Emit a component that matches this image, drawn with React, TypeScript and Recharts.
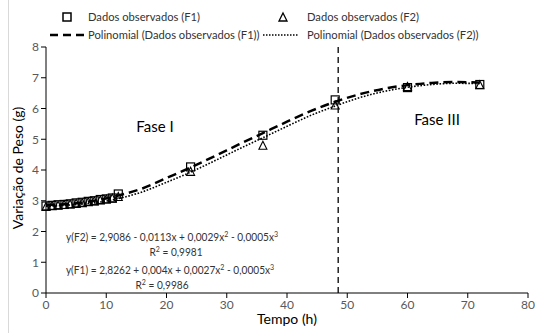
import React from "react";
import {
  ComposedChart,
  Scatter,
  Line,
  XAxis,
  YAxis,
  ReferenceLine,
} from "recharts";

// observed times (h)
const tempo = [0, 1, 2, 3, 4, 5, 6, 7, 8, 9, 10, 11, 12, 24, 36, 48, 60, 72];
const pesoF1 = [2.83, 2.85, 2.87, 2.88, 2.9, 2.93, 2.95, 2.98, 3.0, 3.04, 3.06, 3.09, 3.22, 4.1, 5.13, 6.28, 6.68, 6.78];
const pesoF2 = [2.8, 2.82, 2.84, 2.86, 2.88, 2.9, 2.92, 2.95, 2.98, 3.01, 3.04, 3.07, 3.12, 3.94, 4.79, 6.1, 6.7, 6.76];

// trend lines
const tempoTrend = [0, 4, 8, 12, 16, 20, 24, 28, 32, 36, 40, 44, 48, 52, 56, 60, 64, 68, 72];
const trendF1 = [2.86, 2.9, 3.0, 3.17, 3.4, 3.74, 4.08, 4.45, 4.83, 5.2, 5.57, 5.92, 6.22, 6.46, 6.64, 6.76, 6.83, 6.86, 6.84];
const trendF2 = [2.82, 2.86, 2.93, 3.07, 3.29, 3.6, 3.93, 4.3, 4.68, 5.05, 5.42, 5.78, 6.08, 6.35, 6.55, 6.69, 6.78, 6.82, 6.81];

const xTicks = [0, 10, 20, 30, 40, 50, 60, 70, 80];
const yTicks = [0, 1, 2, 3, 4, 5, 6, 7, 8];
const faseLimite = 48.5;

const nomes = [
  "Dados observados (F1)",
  "Dados observados (F2)",
  "Polinomial (Dados observados (F1))",
  "Polinomial (Dados observados (F2))",
];

const obsF1 = tempo.map((t, i) => ({ x: t, y: pesoF1[i] }));
const obsF2 = tempo.map((t, i) => ({ x: t, y: pesoF2[i] }));
const linF1 = tempoTrend.map((t, i) => ({ x: t, y: trendF1[i] }));
const linF2 = tempoTrend.map((t, i) => ({ x: t, y: trendF2[i] }));

const FONT = "Lato, 'Liberation Sans', sans-serif";

const Quadrado = (props: any) => {
  const { cx, cy } = props;
  return <rect x={cx - 4} y={cy - 4} width={8} height={8} fill="none" stroke="#000" strokeWidth={1.2} />;
};

const Triangulo = (props: any) => {
  const { cx, cy } = props;
  return (
    <polygon
      points={`${cx},${cy - 4.5} ${cx + 4},${cy + 3.5} ${cx - 4},${cy + 3.5}`}
      fill="none"
      stroke="#000"
      strokeWidth={1.1}
    />
  );
};

// narrow text, closer to the Calibri look of the original
const Narrow = ({ x, y, children }: any) => (
  <g transform={`translate(${x},${y}) scale(0.88,1)`}>
    <text x={0} y={0} textAnchor="middle" fontFamily={FONT} fontSize={11.5} fill="#333">
      {children}
    </text>
  </g>
);

export default function App() {
  const txt = { fontFamily: FONT, fontSize: 11.2, fill: "#333" };
  return (
    <div style={{ position: "fixed", left: 0, top: 0, width: 535, height: 333, background: "#fff" }}>
      <div style={{ position: "absolute", left: 8, top: 0, width: 1, height: 333, background: "#d9d9d9" }} />
      <ComposedChart
        width={535}
        height={333}
        margin={{ top: 47, right: 7, bottom: 0, left: 0 }}
        style={{ position: "absolute", left: 0, top: 0 }}
      >
        <XAxis
          type="number"
          dataKey="x"
          domain={[0, 80]}
          ticks={xTicks}
          height={40}
          tickSize={5}
          stroke="#000"
          tick={{ fill: "#595959", fontSize: 12, fontFamily: FONT }}
          allowDuplicatedCategory={false}
        />
        <YAxis
          type="number"
          dataKey="y"
          domain={[0, 8]}
          ticks={yTicks}
          width={46}
          tickSize={5}
          stroke="#000"
          tick={{ fill: "#595959", fontSize: 12, fontFamily: FONT }}
        />
        <ReferenceLine x={faseLimite} stroke="#222" strokeWidth={1.5} strokeDasharray="6 4" />
        <Line data={linF1} dataKey="y" name={nomes[2]} type="monotone" stroke="#000" strokeWidth={2.5} strokeDasharray="9 5" dot={false} isAnimationActive={false} />
        <Line data={linF2} dataKey="y" name={nomes[3]} type="monotone" stroke="#000" strokeWidth={1.6} strokeDasharray="1.6 1.6" dot={false} isAnimationActive={false} />
        <Scatter data={obsF1} dataKey="y" name={nomes[0]} shape={<Quadrado />} isAnimationActive={false} />
        <Scatter data={obsF2} dataKey="y" name={nomes[1]} shape={<Triangulo />} isAnimationActive={false} />
      </ComposedChart>
      <svg width={535} height={333} style={{ position: "absolute", left: 0, top: 0, pointerEvents: "none" }}>
        {/* legend */}
        <rect x={63} y={13} width={8} height={8} fill="none" stroke="#000" strokeWidth={1.5} />
        <text x={88} y={21} {...txt}>{nomes[0]}</text>
        <polygon points="283,13 287,21 279,21" fill="none" stroke="#000" strokeWidth={1.3} />
        <text x={307} y={21} {...txt}>{nomes[1]}</text>
        <line x1={50} y1={35} x2={84} y2={35} stroke="#000" strokeWidth={2.5} strokeDasharray="8 5" />
        <text x={88} y={39} {...txt}>{nomes[2]}</text>
        <line x1={263} y1={35} x2={298} y2={35} stroke="#000" strokeWidth={1.5} strokeDasharray="1.5 1.5" />
        <text x={307} y={39} {...txt}>{nomes[3]}</text>

        {/* axis titles */}
        <text x={287} y={324} textAnchor="middle" fontFamily={FONT} fontSize={14} fill="#000">Tempo (h)</text>
        <text x={0} y={0} transform="translate(23,168) rotate(-90)" textAnchor="middle" fontFamily={FONT} fontSize={14} fill="#000">Variação de Peso (g)</text>

        {/* phases */}
        <text x={155} y={132} textAnchor="middle" fontFamily={FONT} fontSize={15} fill="#000">Fase I</text>
        <text x={437} y={125} textAnchor="middle" fontFamily={FONT} fontSize={15} fill="#000">Fase III</text>

        {/* equations */}
        <Narrow x={172} y={241}>
          y(F2) = 2,9086 - 0,0113x + 0,0029x<tspan dy={-4} fontSize={8}>2</tspan><tspan dy={4}> - 0,0005x</tspan><tspan dy={-4} fontSize={8}>3</tspan>
        </Narrow>
        <Narrow x={176} y={256}>R<tspan dy={-4} fontSize={8}>2</tspan><tspan dy={4}> = 0,9981</tspan></Narrow>
        <Narrow x={170} y={274}>
          y(F1) = 2,8262 + 0,004x + 0,0027x<tspan dy={-4} fontSize={8}>2</tspan><tspan dy={4}> - 0,0005x</tspan><tspan dy={-4} fontSize={8}>3</tspan>
        </Narrow>
        <Narrow x={162} y={289}>R<tspan dy={-4} fontSize={8}>2</tspan><tspan dy={4}> = 0,9986</tspan></Narrow>
      </svg>
    </div>
  );
}
